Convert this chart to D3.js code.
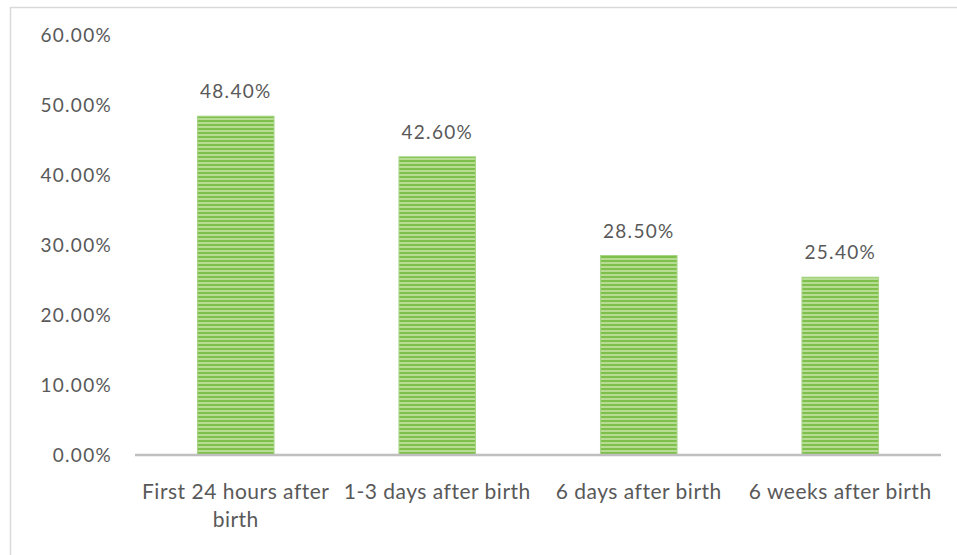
<!DOCTYPE html>
<html>
<head>
<meta charset="utf-8">
<script src="https://cdn.jsdelivr.net/npm/d3@7"></script>
<style>
  body { margin: 0; background: #fff; }
  text { font-family: Lato, "Open Sans", sans-serif; fill: #595959; }
</style>
</head>
<body>
<script>
// data
const categories = ["First 24 hours after birth", "1-3 days after birth", "6 days after birth", "6 weeks after birth"];
const categoryLines = [["First 24 hours after", "birth"], ["1-3 days after birth"], ["6 days after birth"], ["6 weeks after birth"]];
const values = [0.484, 0.426, 0.285, 0.254];
const yTicks = [0, 0.1, 0.2, 0.3, 0.4, 0.5, 0.6];

const width = 957, height = 555;
const margin = { top: 35, right: 16, bottom: 100, left: 135 };

const svg = d3.select("body").append("svg")
  .attr("width", width)
  .attr("height", height);

// chart border
svg.append("rect")
  .attr("x", 10.5).attr("y", 7.5)
  .attr("width", 960).attr("height", 560)
  .attr("fill", "none")
  .attr("stroke", "#d9d9d9")
  .attr("stroke-width", 1.5);

// striped fill
const defs = svg.append("defs");
const pat = defs.append("pattern")
  .attr("id", "stripes")
  .attr("patternUnits", "userSpaceOnUse")
  .attr("width", 8).attr("height", 4);
pat.append("rect").attr("width", 8).attr("height", 4).attr("fill", "#b7dd94");
pat.append("rect").attr("y", 0).attr("width", 8).attr("height", 2).attr("fill", "#7fc04c");

const x = d3.scaleBand()
  .domain(categories)
  .range([margin.left, width - margin.right])
  .paddingInner(0.62)
  .paddingOuter(0.31);

const y = d3.scaleLinear()
  .domain([0, 0.6])
  .range([height - margin.bottom, margin.top]);

// y tick labels
svg.append("g")
  .selectAll("text")
  .data(yTicks)
  .join("text")
    .attr("x", 112)
    .attr("y", d => y(d))
    .attr("dy", "0.35em")
    .attr("text-anchor", "end")
    .attr("font-size", 19)
    .attr("letter-spacing", 1.3)
    .text(d => d3.format(".2%")(d));

// bars
svg.append("g")
  .selectAll("rect")
  .data(values)
  .join("rect")
    .attr("x", (d, i) => x(categories[i]))
    .attr("y", d => y(d))
    .attr("width", x.bandwidth())
    .attr("height", d => y(0) - y(d))
    .attr("fill", "url(#stripes)")
    .attr("stroke", "#a8d585")
    .attr("stroke-width", 1);

// value labels
svg.append("g")
  .selectAll("text")
  .data(values)
  .join("text")
    .attr("x", (d, i) => x(categories[i]) + x.bandwidth() / 2)
    .attr("y", d => y(d) - 18)
    .attr("text-anchor", "middle")
    .attr("font-size", 19)
    .attr("letter-spacing", 1.3)
    .text(d => d3.format(".2%")(d));

// x axis line
svg.append("line")
  .attr("x1", margin.left).attr("x2", width - margin.right)
  .attr("y1", y(0)).attr("y2", y(0))
  .attr("stroke", "#bfbfbf")
  .attr("stroke-width", 2.5);

// category labels
const xl = svg.append("g")
  .selectAll("text")
  .data(categories)
  .join("text")
    .attr("x", d => x(d) + x.bandwidth() / 2)
    .attr("y", 499)
    .attr("text-anchor", "middle")
    .attr("font-size", 21)
    .attr("letter-spacing", 0.5);
xl.selectAll("tspan")
  .data((d, i) => categoryLines[i])
  .join("tspan")
    .attr("x", function() { return this.parentNode.getAttribute("x"); })
    .attr("dy", (d, j) => j === 0 ? 0 : 28)
    .text(d => d);
</script>
</body>
</html>
